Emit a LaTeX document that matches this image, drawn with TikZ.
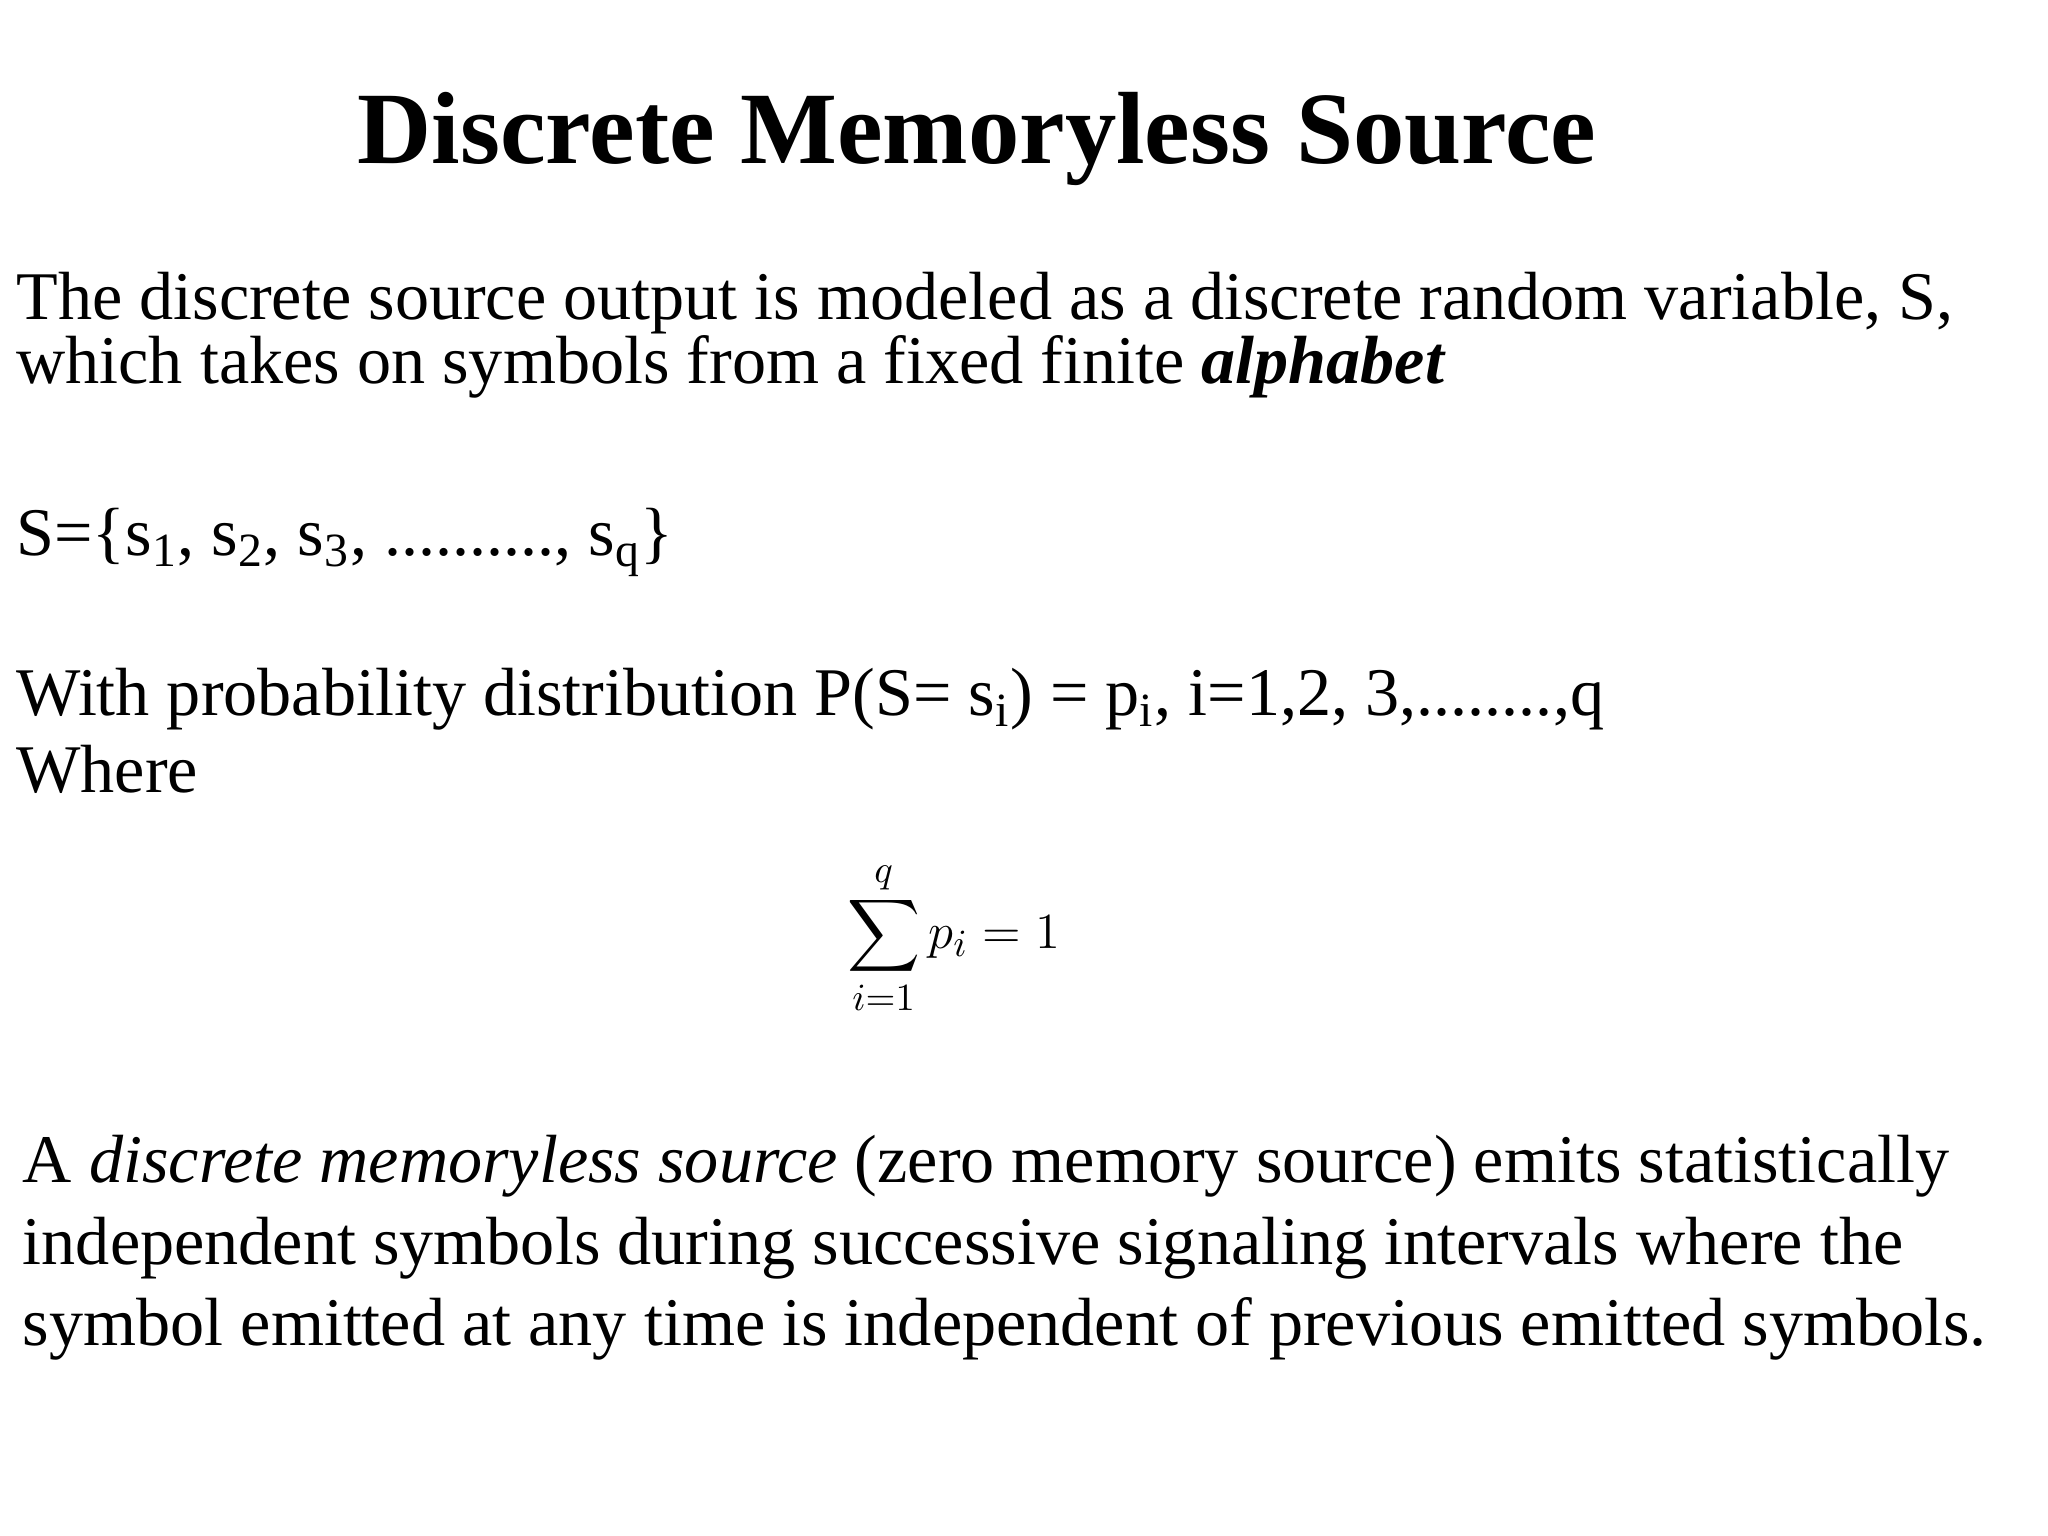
\documentclass[tikz,border=0pt]{standalone}
\usepackage{amsmath}
\usepackage{fontspec}
\setmainfont{Liberation Serif}
\begin{document}
\begin{tikzpicture}[x=0.01306cm,y=-0.01306cm,
  body/.style={anchor=base west,inner sep=0pt,font=\fontsize{19.4}{20}\selectfont},
  para/.style={anchor=base west,inner sep=0pt,font=\fontsize{19.4}{20}\selectfont}]
\useasboundingbox (0,0) rectangle (1568,1176);
\node[anchor=base,inner sep=0pt,font=\fontsize{29.2}{30}\selectfont\bfseries] (title) at (748,125) {Discrete Memoryless Source};
\node[body] (l1) at (12,245) {The discrete source output is modeled as a discrete random variable, S,};
\node[body] (l2) at (12,294) {which takes on symbols from a fixed finite \textbf{\textit{alphabet}}};
\node[body] (l3) at (12,425) {S=\{s\textsubscript{1}, s\textsubscript{2}, s\textsubscript{3}, .........., s\textsubscript{q}\}};
\node[body] (l4) at (12,548) {With probability distribution P(S= s\textsubscript{i}) = p\textsubscript{i}, i=1,2, 3,........,q};
\node[body] (l5) at (12,607) {Where};
\node[inner sep=0pt,font=\fontsize{15.5}{16}\selectfont] (sum) at (730,718) {$\displaystyle\sum_{i=1}^{q} p_i = 1$};
\node[para] (p1) at (17,905) {A \textit{discrete memoryless source} (zero memory source) emits statistically};
\node[para] (p2) at (17,968) {independent symbols during successive signaling intervals where the};
\node[para] (p3) at (17,1030) {symbol emitted at any time is independent of previous emitted symbols.};
\end{tikzpicture}
\end{document}
